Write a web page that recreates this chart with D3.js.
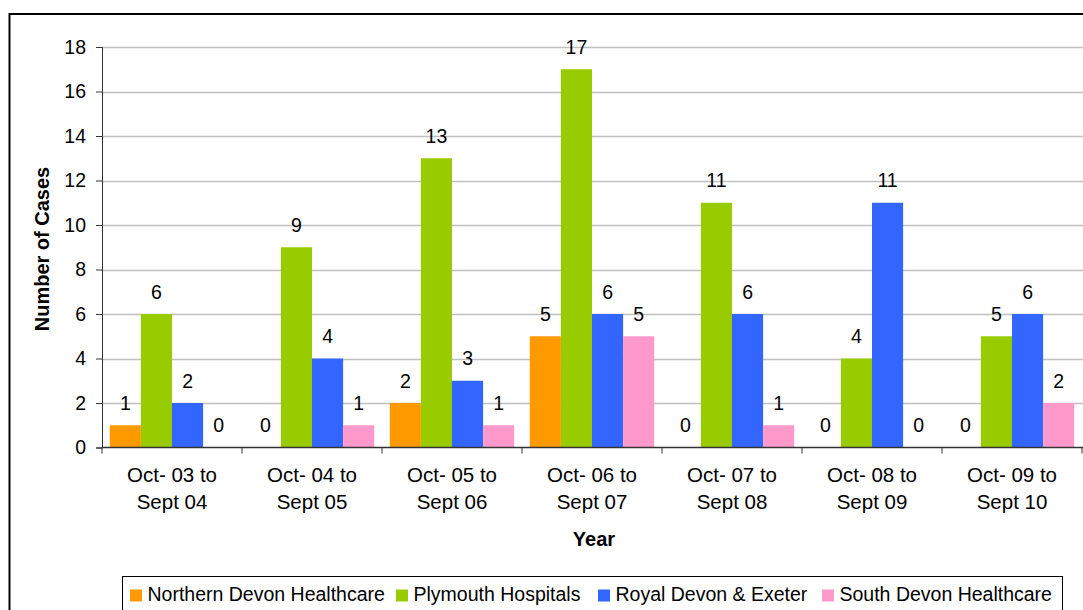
<!DOCTYPE html>
<html>
<head>
<meta charset="utf-8">
<script src="https://d3js.org/d3.v7.min.js"></script>
<style>
  body { margin: 0; background: #fff; }
  svg { display: block; font-family: "Liberation Sans", Arial, sans-serif; }
</style>
</head>
<body>
<div id="chart"></div>
<script>
const years = [
    ["Oct- 03 to", "Sept 04"],
    ["Oct- 04 to", "Sept 05"],
    ["Oct- 05 to", "Sept 06"],
    ["Oct- 06 to", "Sept 07"],
    ["Oct- 07 to", "Sept 08"],
    ["Oct- 08 to", "Sept 09"],
    ["Oct- 09 to", "Sept 10"]
];
const seriesNames = ["Northern Devon Healthcare", "Plymouth Hospitals", "Royal Devon & Exeter", "South Devon Healthcare"];
const northernDevon = [1, 0, 2, 5, 0, 0, 0];
const plymouth = [6, 9, 13, 17, 11, 4, 5];
const royalDevon = [2, 4, 3, 6, 6, 11, 6];
const southDevon = [0, 1, 1, 5, 1, 0, 2];
const yTicks = [0, 2, 4, 6, 8, 10, 12, 14, 16, 18];
const colors = ["#FF9900", "#99CC00", "#3366FF", "#FF99CC"];

const allSeries = [northernDevon, plymouth, royalDevon, southDevon];

const width = 1083, height = 610;
const margin = { left: 102, right: 1, top: 47, bottom: 610 - 447.5 };
const fs = 19.5;

const svg = d3.select("#chart").append("svg")
    .attr("width", width)
    .attr("height", height);

// outer frame
svg.append("rect")
    .attr("x", 9.5).attr("y", 14)
    .attr("width", 1100).attr("height", 700)
    .attr("fill", "none").attr("stroke", "#000").attr("stroke-width", 2);

const x = d3.scaleBand()
    .domain(d3.range(years.length))
    .range([margin.left, width - margin.right])
    .paddingInner(0)
    .paddingOuter(0);

const xInner = d3.scaleBand()
    .domain(d3.range(seriesNames.length))
    .range([0, x.bandwidth()])
    .paddingInner(0)
    .paddingOuter(0.25);

const y = d3.scaleLinear()
    .domain([0, 18])
    .range([height - margin.bottom, margin.top]);

// gridlines
svg.append("g")
    .selectAll("line")
    .data(yTicks.filter(d => d > 0))
    .enter()
    .append("line")
    .attr("x1", margin.left).attr("x2", width)
    .attr("y1", d => Math.round(y(d)) + 0.5)
    .attr("y2", d => Math.round(y(d)) + 0.5)
    .attr("stroke", "#c0c0c0")
    .attr("stroke-width", 1.3);

// bars
const groups = svg.append("g")
    .selectAll("g")
    .data(allSeries)
    .enter()
    .append("g")
    .attr("fill", (d, i) => colors[i]);

groups.each(function(series, si) {
    const g = d3.select(this);
    g.selectAll("rect")
        .data(series)
        .enter()
        .append("rect")
        .attr("x", (d, i) => x(i) + xInner(si))
        .attr("y", d => y(d))
        .attr("width", xInner.bandwidth())
        .attr("height", d => y(0) - y(d));

    g.selectAll("text")
        .data(series)
        .enter()
        .append("text")
        .attr("x", (d, i) => x(i) + xInner(si) + xInner.bandwidth() / 2)
        .attr("y", d => y(d) - 15.5)
        .attr("text-anchor", "middle")
        .attr("font-size", fs)
        .attr("fill", "#000")
        .text(d => d);
});

// y axis
const yAxis = svg.append("g")
    .attr("transform", `translate(${margin.left},0)`)
    .call(d3.axisLeft(y).tickValues(yTicks).tickSize(6).tickPadding(10));
yAxis.select(".domain").attr("stroke", "#333");
yAxis.selectAll(".tick line").attr("stroke", "#333");
yAxis.selectAll(".tick text")
    .attr("font-size", fs)
    .attr("font-family", "Liberation Sans, Arial, sans-serif")
    .attr("fill", "#000");

// x axis
const xAxisG = svg.append("g")
    .attr("transform", `translate(0,${y(0)})`);
xAxisG.append("line")
    .attr("x1", margin.left).attr("x2", width)
    .attr("y1", 0).attr("y2", 0)
    .attr("stroke", "#333").attr("stroke-width", 1.5);
xAxisG.selectAll("line.tk")
    .data(d3.range(years.length + 1))
    .enter()
    .append("line")
    .attr("class", "tk")
    .attr("x1", i => margin.left + i * x.bandwidth())
    .attr("x2", i => margin.left + i * x.bandwidth())
    .attr("y1", 0).attr("y2", 6)
    .attr("stroke", "#333");

const catLabels = xAxisG.selectAll("text.cat")
    .data(years)
    .enter()
    .append("text")
    .attr("class", "cat")
    .attr("text-anchor", "middle")
    .attr("font-size", 20.5)
    .attr("transform", (d, i) => `translate(${x(i) + x.bandwidth() / 2},0)`);
catLabels.append("tspan").attr("x", 0).attr("y", 34.5).text(d => d[0]);
catLabels.append("tspan").attr("x", 0).attr("y", 61.5).text(d => d[1]);

// axis titles
svg.append("text")
    .attr("x", 594).attr("y", 546)
    .attr("text-anchor", "middle")
    .attr("font-size", 20).attr("font-weight", "bold")
    .text("Year");

svg.append("text")
    .attr("transform", "translate(49,249) rotate(-90)")
    .attr("text-anchor", "middle")
    .attr("font-size", 20).attr("font-weight", "bold")
    .text("Number of Cases");

// legend
const legend = svg.append("g");
legend.append("rect")
    .attr("x", 122.5).attr("y", 576.5)
    .attr("width", 940).attr("height", 60)
    .attr("fill", "#fff").attr("stroke", "#000").attr("stroke-width", 1);

const legendX = [130, 396, 598, 822];
const items = legend.selectAll("g.item")
    .data(seriesNames)
    .enter()
    .append("g")
    .attr("class", "item")
    .attr("transform", (d, i) => `translate(${legendX[i]},0)`);
items.append("rect")
    .attr("x", 0).attr("y", 589.5)
    .attr("width", 12).attr("height", 12)
    .attr("fill", (d, i) => colors[i]);
items.append("text")
    .attr("x", 17.5).attr("y", 600.5)
    .attr("font-size", fs)
    .text(d => d);
</script>
</body>
</html>
